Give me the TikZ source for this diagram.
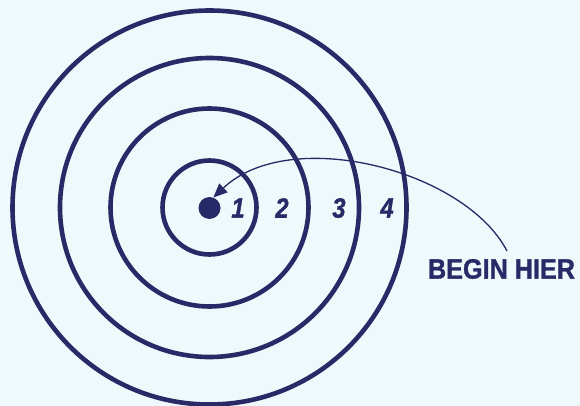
\documentclass[tikz,border=0pt]{standalone}
\usepackage{fontspec}
\setmainfont{Liberation Sans}
\newfontfamily\numfont[FakeStretch=0.85,FakeBold=1.2]{Liberation Sans}
\newfontfamily\lblfont[FakeStretch=0.9,FakeBold=1.2]{Liberation Sans}
\usetikzlibrary{arrows.meta}
\definecolor{navy}{RGB}{38,43,104}
\definecolor{bgc}{RGB}{239,248,250}
\tikzset{
  ring/.style={circle, draw=navy, line width=4.6pt, inner sep=0pt, fill=none},
  num/.style={text=navy, font=\numfont\bfseries\itshape\fontsize{28}{28}\selectfont, inner sep=0pt},
  lbl/.style={text=navy, font=\lblfont\bfseries\fontsize{28}{28}\selectfont, inner sep=0pt},
  pointer/.style={draw=navy, line width=1.3pt, -{Triangle[length=14pt,width=12pt]}},
}
\begin{document}
\begin{tikzpicture}[x=1pt,y=-1pt]
\useasboundingbox[fill=bgc] (0,0) rectangle (580,406);
\node[ring, minimum size=394pt] (c4) at (209.5,207.5) {};
\node[ring, minimum size=299pt] (c3) at (209.5,207.5) {};
\node[ring, minimum size=198pt] (c2) at (209.5,207.5) {};
\node[ring, minimum size=94pt] (c1) at (209.5,207.5) {};
\node[circle, fill=navy, minimum size=22pt, inner sep=0pt] (dot) at (209.5,208) {};
\node[num] (n1) at (238,208) {1};
\node[num] (n2) at (282,208) {2};
\node[num] (n3) at (339,208) {3};
\node[num] (n4) at (387,208) {4};
\node[lbl] (hier) at (501.5,269) {BEGIN HIER};
\coordinate (start) at (507,251);
\draw[pointer] (start) .. controls (465,170) and (290,125) .. (dot.70);
\end{tikzpicture}
\end{document}
